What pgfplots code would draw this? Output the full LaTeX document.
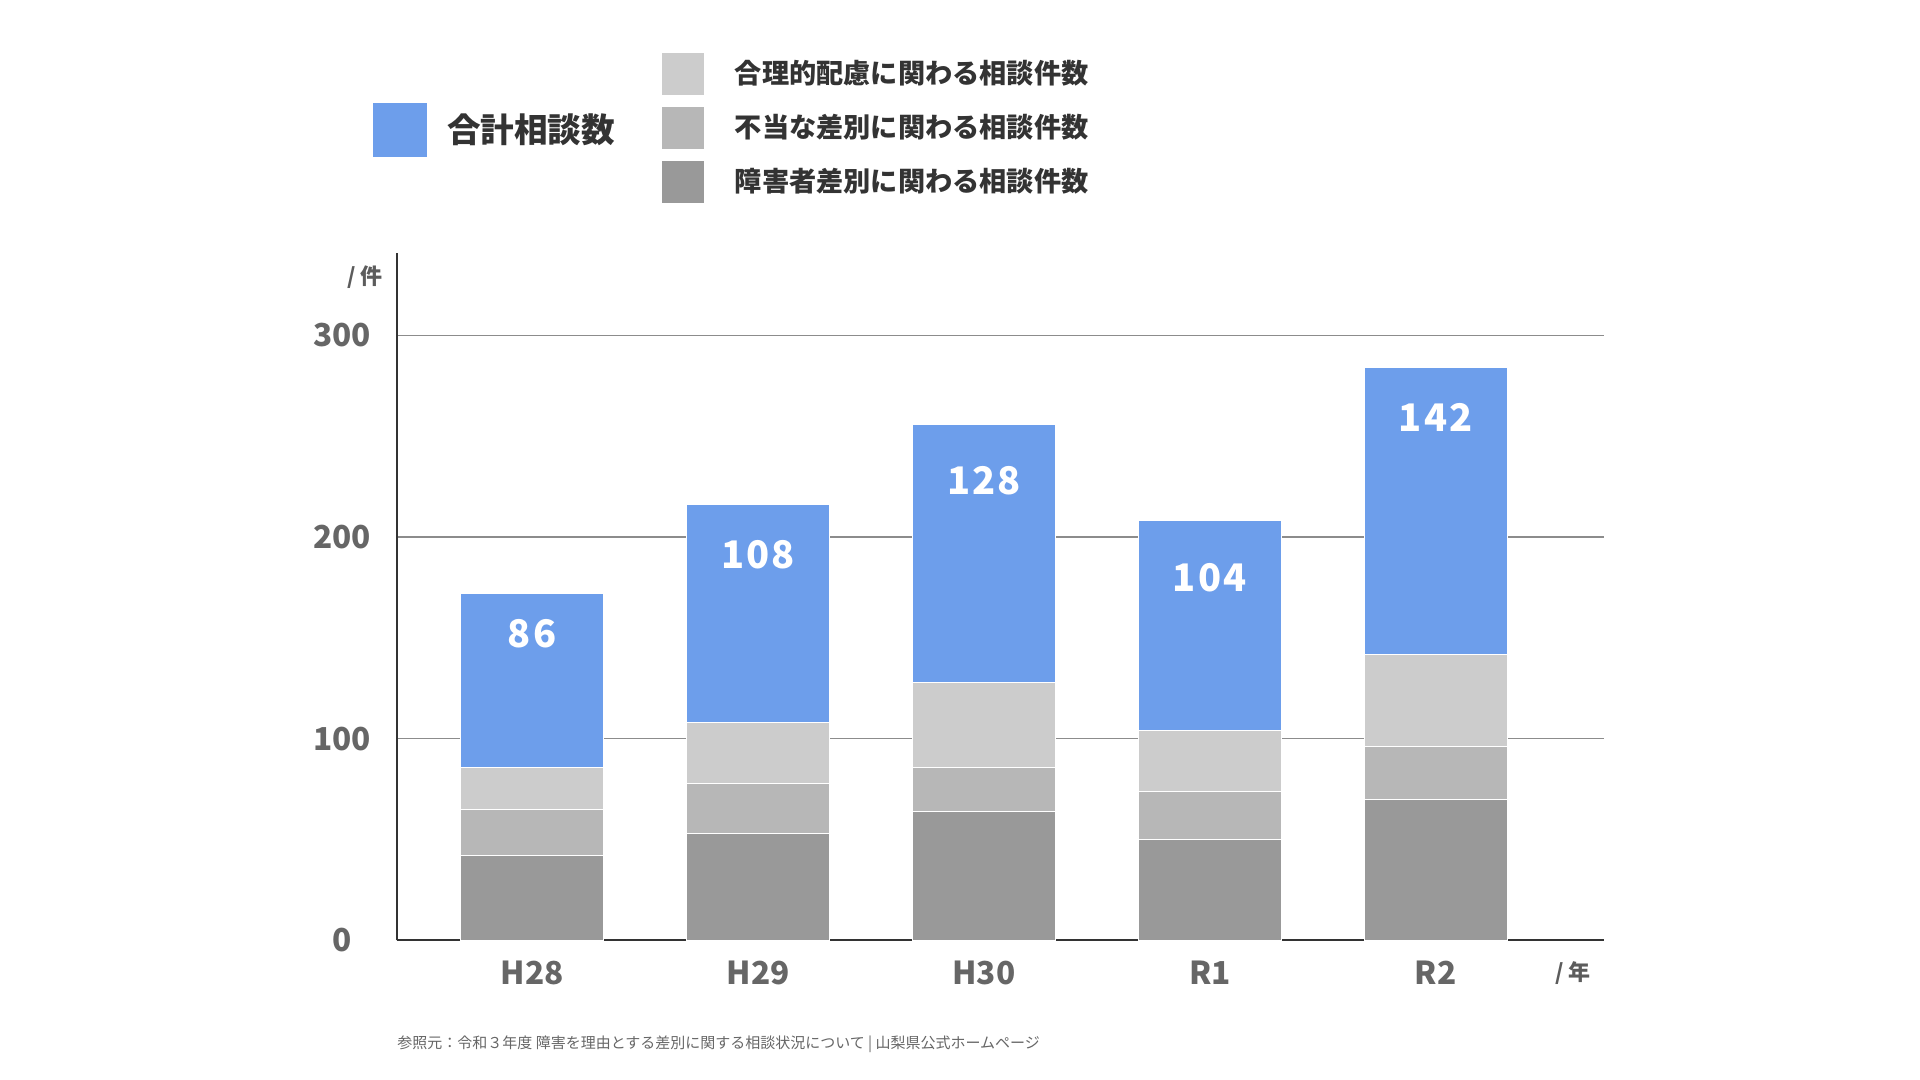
\documentclass[border=0pt]{standalone}
\usepackage{pgfplots}
\pgfplotsset{compat=1.18}
\usepackage{fontspec}
\setmainfont{Noto Sans CJK JP}
\definecolor{cdark}{HTML}{999999}
\definecolor{cmid}{HTML}{B7B7B7}
\definecolor{clight}{HTML}{CCCCCC}
\definecolor{cblue}{HTML}{6D9EEB}
\definecolor{ctext}{HTML}{333333}
\definecolor{ctick}{HTML}{666666}
\definecolor{caxis}{HTML}{333333}
\pgfplotsset{
  frame/.style={at={(198.35pt,69.75pt)}, anchor=south west, scale only axis,
    width=603.65pt, height=343.75pt,
    xmin=-0.6, xmax=4.745, ymin=0, ymax=340.8},
}
\begin{document}
\begin{tikzpicture}
\path[use as bounding box] (0,0) rectangle (960pt,540pt);
\begin{axis}[
  frame,
  axis x line*=bottom, axis y line*=left,
  axis line style={draw=caxis, line width=1pt},
  xtick={0,1,2,3,4}, xticklabels={H28,H29,H30,R1,R2},
  ytick={0,100,200,300},
  /pgf/number format/assume math mode=true,
  major tick length=0pt,
  ymajorgrids, major grid style={draw=black!45, line width=0.6pt},
  ybar stacked, bar width=0.631,
  ticklabel style={font=\fontsize{15.8}{19}\selectfont\bfseries, text=ctick},
  xticklabel style={anchor=center, yshift=-16.25pt},
  yticklabel style={anchor=center, xshift=-27.35pt},
]
\addplot[fill=cdark, draw=white, line width=0.5pt] coordinates {(0,42) (1,53) (2,64) (3,50) (4,70)};
\addplot[fill=cmid, draw=white, line width=0.5pt] coordinates {(0,23) (1,25) (2,22) (3,24) (4,26)};
\addplot[fill=clight, draw=white, line width=0.5pt] coordinates {(0,21) (1,30) (2,42) (3,30) (4,46)};
\addplot[fill=cblue, draw=white, line width=0.5pt] coordinates {(0,86) (1,108) (2,128) (3,104) (4,142)};
\end{axis}
\begin{axis}[
  frame, hide axis, clip=false,
  legend style={at={(0.2197,1.2915)}, anchor=north west, draw=none, fill=none,
    inner sep=0pt, outer sep=0pt, row sep=6pt,
    font=\fontsize{13.6}{16}\selectfont\bfseries, text=ctext,
    nodes={inner sep=0pt},
    /tikz/every odd column/.append style={column sep=15.5pt}},
  legend cell align=left,
  legend image code/.code={\fill[#1] (0pt,-10.5pt) rectangle (21pt,10.5pt);},
]
\addplot[forget plot, draw=none, mark=none, nodes near coords, point meta=explicit symbolic,
  every node near coord/.style={anchor=center, text=white,
    font=\fontsize{19}{22}\selectfont\bfseries\addfontfeature{LetterSpace=6}}]
  table[meta=label] {
x y label
0 152.2 86
1 191.3 108
2 227.7 128
3 179.7 104
4 259.2 142
};
\addlegendimage{fill=clight, draw=none}
\addlegendentry{合理的配慮に関わる相談件数}
\addlegendimage{fill=cmid, draw=none}
\addlegendentry{不当な差別に関わる相談件数}
\addlegendimage{fill=cdark, draw=none}
\addlegendentry{障害者差別に関わる相談件数}
\end{axis}
\begin{axis}[
  frame, hide axis,
  legend style={at={(-0.0196,1.2182)}, anchor=north west, draw=none, fill=none,
    inner sep=0pt, outer sep=0pt,
    font=\fontsize{16.8}{20}\selectfont\bfseries, text=ctext,
    nodes={inner sep=0pt},
    /tikz/every odd column/.append style={column sep=10pt}},
  legend image code/.code={\fill[#1] (0pt,-13.5pt) rectangle (27pt,13.5pt);},
]
\addlegendimage{fill=cblue, draw=none}
\addlegendentry{合計相談数}
\end{axis}
\node[font=\fontsize{11}{13}\selectfont\bfseries, text=ctick!90!black] at (182.5pt,401.5pt) {/ 件};
\node[font=\fontsize{11}{13}\selectfont\bfseries, text=ctick!90!black] at (786.5pt,53.5pt) {/ 年};
\node[anchor=west, inner sep=0pt, font=\fontsize{7.5}{9}\selectfont, text=ctick] at (198.5pt,17.75pt)
  {参照元：令和３年度 障害を理由とする差別に関する相談状況について | 山梨県公式ホームページ};
\end{tikzpicture}
\end{document}
